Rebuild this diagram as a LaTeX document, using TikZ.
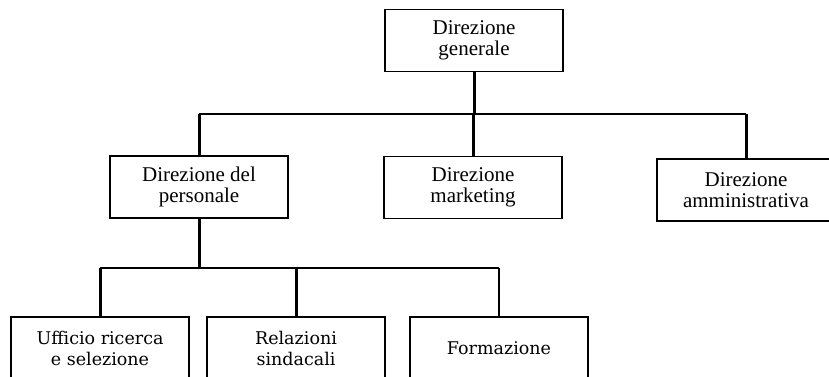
\documentclass[tikz,border=0pt]{standalone}
\usepackage{fontspec}
\setmainfont{Liberation Serif}
\newfontfamily\lowfont{DejaVu Serif}
\begin{document}
\begin{tikzpicture}[x=1pt,y=-1pt,
  upbox/.style={draw, line width=1.5pt, minimum width=178pt, minimum height=62pt,
    align=center, inner sep=0pt, font=\fontsize{21}{21.5}\selectfont},
  lowbox/.style={draw, line width=1.5pt, minimum width=178pt, minimum height=63pt,
    align=center, inner sep=0pt, font=\lowfont\fontsize{17.5}{21}\selectfont},
  vline/.style={line width=3pt},
  hline/.style={line width=1.6pt}]
\useasboundingbox (0,0) rectangle (829,376);
\clip (0,0) rectangle (829,376);
\fill[white] (0,0) rectangle (829,376);
% nodes
\node[upbox] (dg) at (474,40.5) {Direzione\\generale};
\node[upbox] (dp) at (199,187) {Direzione del\\personale};
\node[upbox] (dm) at (473,187.5) {Direzione\\marketing};
\node[upbox] (da) at (746,190) {Direzione\\amministrativa};
\node[lowbox] (ur) at (100,348.5) {Ufficio ricerca\\e selezione};
\node[lowbox] (rs) at (296,348.5) {Relazioni\\sindacali};
\node[lowbox] (fo) at (499,348.5) {Formazione};
% buses
\coordinate (bus1) at (0,114);
\coordinate (bus2) at (0,268);
\draw[hline] (dp.north |- bus1) -- (da.north |- bus1);
\draw[vline] (dg.south) -- (dg.south |- bus1);
\draw[vline] (dp.north |- bus1) -- (dp.north);
\draw[vline] (dm.north |- bus1) -- (dm.north);
\draw[vline] (da.north |- bus1) -- (da.north);
\draw[hline] (ur.north |- bus2) -- (fo.north |- bus2);
\draw[vline] (dp.south) -- (dp.south |- bus2);
\draw[vline] (ur.north |- bus2) -- (ur.north);
\draw[vline] (rs.north |- bus2) -- (rs.north);
\draw[hline] (fo.north |- bus2) -- (fo.north);
\end{tikzpicture}
\end{document}
